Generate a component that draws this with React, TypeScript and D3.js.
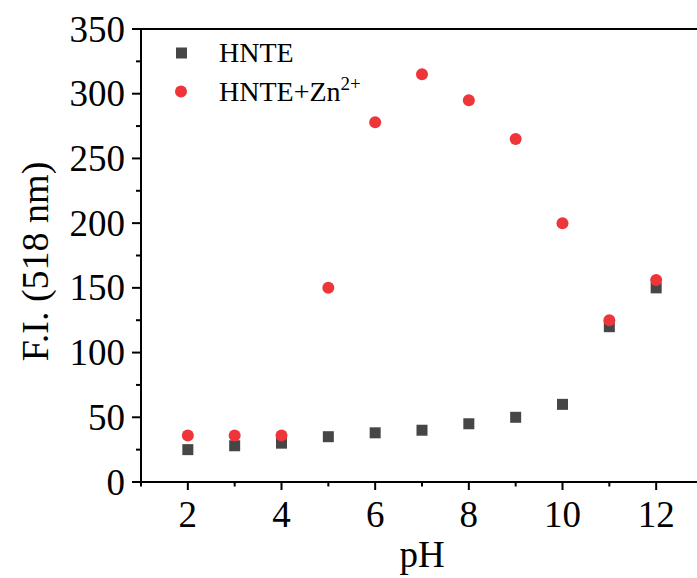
import React from "react";
import * as d3 from "d3";

// pH values and fluorescence intensity at 518 nm
const phValues = [2, 3, 4, 5, 6, 7, 8, 9, 10, 11, 12];
const hnte = [25, 28, 30, 35, 38, 40, 45, 50, 60, 120, 150];
const hnteZn = [36, 36, 36, 150, 278, 315, 295, 265, 200, 125, 156];

const xMajorTicks = [2, 4, 6, 8, 10, 12];
const xMinorTicks = [1, 3, 5, 7, 9, 11, 13];
const yMajorTicks = [0, 50, 100, 150, 200, 250, 300, 350];
const yMinorTicks = [25, 75, 125, 175, 225, 275, 325];

const seriesNames = ["HNTE", "HNTE+Zn"];

const W = 697;
const H = 578;
const M = { left: 141, top: 29, right: 703, bottom: 482 };
const FONT = "'Liberation Serif', 'Times New Roman', serif";
const GRAY = "#464646";
const RED = "#ee3539";

export default function App() {
  const x = d3.scaleLinear().domain([1, 13]).range([M.left, M.right]);
  const y = d3.scaleLinear().domain([0, 350]).range([M.bottom, M.top]);
  const sq = 11;
  const r = 6;

  return (
    <svg
      width={W}
      height={H}
      style={{ position: "absolute", left: 0, top: 0, background: "#fff" }}
      fontFamily={FONT}
    >
      {/* frame */}
      <line x1={M.left} x2={M.right} y1={M.top} y2={M.top} stroke="#000" strokeWidth={2} />
      <line x1={M.left} x2={M.right} y1={M.bottom} y2={M.bottom} stroke="#000" strokeWidth={2} />
      <line x1={M.left} x2={M.left} y1={M.top} y2={M.bottom + 1} stroke="#000" strokeWidth={2} />

      {/* x ticks */}
      {xMajorTicks.map((t) => (
        <g key={"xM" + t}>
          <line x1={x(t)} x2={x(t)} y1={M.bottom} y2={M.bottom + 8} stroke="#000" strokeWidth={2} />
          <text x={x(t)} y={M.bottom + 45} textAnchor="middle" fontSize={37}>
            {t}
          </text>
        </g>
      ))}
      {xMinorTicks.map((t) => (
        <line key={"xm" + t} x1={x(t)} x2={x(t)} y1={M.bottom} y2={M.bottom + 4.5} stroke="#000" strokeWidth={2} />
      ))}

      {/* y ticks */}
      {yMajorTicks.map((t) => (
        <g key={"yM" + t}>
          <line x1={M.left - 9} x2={M.left} y1={y(t)} y2={y(t)} stroke="#000" strokeWidth={2} />
          <text x={M.left - 16} y={y(t) + 12.5} textAnchor="end" fontSize={37}>
            {t}
          </text>
        </g>
      ))}
      {yMinorTicks.map((t) => (
        <line key={"ym" + t} x1={M.left - 5} x2={M.left} y1={y(t)} y2={y(t)} stroke="#000" strokeWidth={2} />
      ))}

      {/* axis titles */}
      <text x={(M.left + M.right) / 2} y={567} textAnchor="middle" fontSize={37}>
        pH
      </text>
      <text
        transform={`translate(48, ${(M.top + M.bottom) / 2 + 6}) rotate(-90)`}
        textAnchor="middle"
        fontSize={38}
      >
        F.I. (518 nm)
      </text>

      {/* data */}
      {phValues.map((p, i) => (
        <rect key={"s" + p} x={x(p) - sq / 2} y={y(hnte[i]) - sq / 2} width={sq} height={sq} fill={GRAY} />
      ))}
      {phValues.map((p, i) => (
        <circle key={"c" + p} cx={x(p)} cy={y(hnteZn[i])} r={r} fill={RED} />
      ))}

      {/* legend */}
      <rect x={181.5 - sq / 2} y={53 - sq / 2} width={sq} height={sq} fill={GRAY} />
      <text x={219} y={62} fontSize={28}>
        {seriesNames[0]}
      </text>
      <circle cx={181} cy={91.5} r={r} fill={RED} />
      <text x={219} y={101} fontSize={28}>
        {seriesNames[1]}
        <tspan dy={-11} fontSize={19}>2+</tspan>
      </text>
    </svg>
  );
}
